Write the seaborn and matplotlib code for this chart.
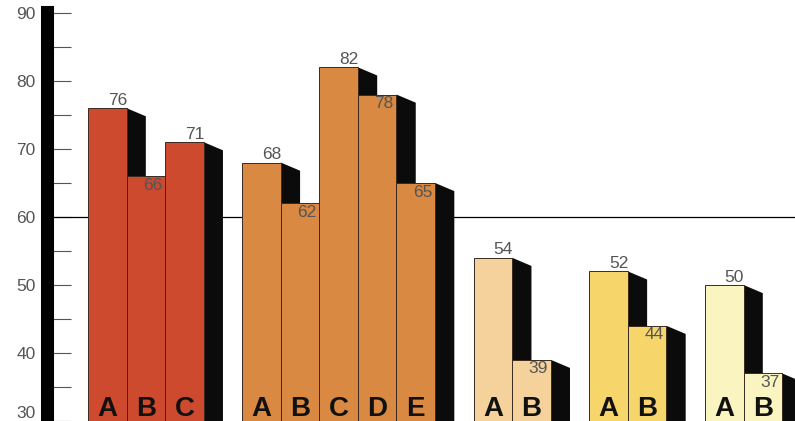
import pandas as pd
import matplotlib
matplotlib.use("Agg")
import matplotlib.pyplot as plt
import seaborn as sns

# data
groups = ["red", "orange", "tan", "yellow", "pale"]
letters = [["A", "B", "C"], ["A", "B", "C", "D", "E"], ["A", "B"], ["A", "B"], ["A", "B"]]
values = [[76, 66, 71], [68, 62, 82, 78, 65], [54, 39], [52, 44], [50, 37]]
colors = ["#CD4A2F", "#D98941", "#F5D19C", "#F6D66A", "#FAF5C0"]
yticks = [30, 40, 50, 60, 70, 80, 90]
ref_line = 60

# one empty slot between groups
rows = []
pos = 0
for g, lets, vals in zip(groups, letters, values):
    for i, (l, v) in enumerate(zip(lets, vals)):
        prev = vals[i - 1] if i > 0 else None
        rows.append({"group": g, "letter": l, "value": v, "x": pos + 0.5,
                     "inside": prev is not None and prev > v})
        pos += 1
    pos += 1
df = pd.DataFrame(rows)

sns.set_style("white")
plt.rcParams["font.family"] = ["Liberation Sans", "DejaVu Sans"]

fig = plt.figure(figsize=(7.95, 4.21), dpi=100)
ax = fig.add_axes([0, 0, 1, 1])
ymin, ymax = 30.26, 91.9

# black 3d side faces
dx, dy = 0.5, 1.2
for _, r in df.iterrows():
    x1 = r.x + 0.5
    ax.fill([x1, x1 + dx, x1 + dx, x1], [r.value, r.value - dy, ymin - 2, ymin - 2],
            color="#0b0b0b", lw=0, zorder=1)

sns.barplot(data=df, x="x", y="value", hue="group", palette=dict(zip(groups, colors)),
            native_scale=True, width=1, dodge=False, legend=False, errorbar=None,
            saturation=1, edgecolor="#3a2a20", linewidth=0.7, zorder=2, ax=ax)

ax.axhline(ref_line, xmin=0.066, color="black", lw=0.9, zorder=0.6)

for _, r in df.iterrows():
    ax.text(r.x, 30.7, r.letter, ha="center", va="baseline", fontsize=20,
            fontweight="bold", color="#111111", zorder=4)
    if r.inside:
        ax.text(r.x + 0.18, r.value - 0.25, str(r.value), ha="center", va="top",
                fontsize=12.5, color="#555555", zorder=4)
    else:
        ax.text(r.x + 0.26, r.value + 0.05, str(r.value), ha="center", va="bottom",
                fontsize=12.5, color="#555555", zorder=4)

ax.set_xlim(-2.282, 18.335)
ax.set_ylim(ymin, ymax)

# thick black axis bar with ticks going right
for s in ["top", "right", "bottom"]:
    ax.spines[s].set_visible(False)
ax.spines["left"].set_position(("data", -1.076))
ax.spines["left"].set_linewidth(9.4)
ax.spines["left"].set_color("black")
ax.spines["left"].set_bounds(ymin - 1, 90.15)
ax.set_yticks(yticks)
ax.set_yticks([(a + b) / 2 for a, b in zip(yticks[:-1], yticks[1:])], minor=True)
ax.tick_params(axis="y", which="both", direction="in", length=17, width=0.8,
               color="#555555", labelcolor="#555555", labelsize=12.5, pad=8, left=True)
ax.get_yticklabels()[0].set_va("bottom")
ax.set_xticks([])
ax.set_xlabel("")
ax.set_ylabel("")

fig.savefig("out.png", dpi=100)
